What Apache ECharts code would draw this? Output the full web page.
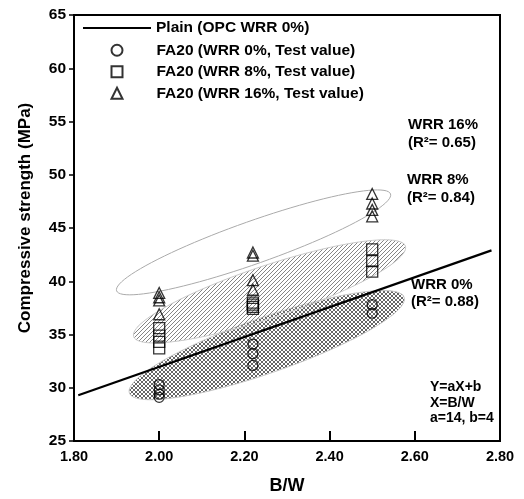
<!DOCTYPE html>
<html lang="en">
  <head>
    <meta charset="UTF-8" />
    <title>Compressive strength vs B/W</title>
    <style>
      html, body { margin: 0; padding: 0; background: #fff; }
      #main { width: 524px; height: 499px; }
    </style>
  </head>
  <body>
    <div id="main"></div>
  </body>
  <script src="https://cdn.jsdelivr.net/npm/echarts@6/dist/echarts.min.js"></script>
  <script>
    /* globals echarts */

    // Plain (OPC WRR 0%) regression line, read at both ends
    var plainX = [1.81, 2.78];
    var plainY = [29.3, 42.9];

    // FA20 test values [B/W, MPa]
    var wrr0 = [
      [2.0, 30.3], [2.0, 29.8], [2.0, 29.4], [2.0, 29.1],
      [2.22, 34.1], [2.22, 33.2], [2.22, 32.1],
      [2.5, 37.8], [2.5, 37.0]
    ];
    var wrr8 = [
      [2.0, 35.6], [2.0, 34.9], [2.0, 34.3], [2.0, 33.7],
      [2.22, 38.0], [2.22, 37.8], [2.22, 37.6], [2.22, 37.4],
      [2.5, 43.0], [2.5, 41.9], [2.5, 40.9]
    ];
    var wrr16 = [
      [2.0, 38.9], [2.0, 38.5], [2.0, 38.2], [2.0, 36.9],
      [2.22, 42.7], [2.22, 42.4], [2.22, 40.1], [2.22, 39.2],
      [2.5, 48.2], [2.5, 47.3], [2.5, 46.7], [2.5, 46.1]
    ];

    // scatter regions: major axis ends (B/W, MPa) and half width (MPa)
    var regions = [
      [1.93, 29.5, 2.575, 38.5, 2.6],
      [1.94, 34.8, 2.578, 43.3, 2.45],
      [1.9, 39.1, 2.543, 48.2, 2.0]
    ];

    var xTicks = ["1.80", "2.00", "2.20", "2.40", "2.60", "2.80"];
    var names = [
      "Plain (OPC WRR 0%)",
      "FA20 (WRR 0%, Test value)",
      "FA20 (WRR 8%, Test value)",
      "FA20 (WRR 16%, Test value)"
    ];

    var FONT = '"Liberation Sans", Arial, sans-serif';

    function makeHatch(color, cross) {
      var c = document.createElement("canvas");
      c.width = 4;
      c.height = 4;
      var ctx = c.getContext("2d");
      ctx.strokeStyle = color;
      ctx.lineWidth = 0.9;
      ctx.beginPath();
      ctx.moveTo(-1, 5); ctx.lineTo(5, -1);
      ctx.moveTo(-1, 1); ctx.lineTo(1, -1);
      ctx.moveTo(3, 5); ctx.lineTo(5, 3);
      if (cross) {
        ctx.moveTo(-1, -1); ctx.lineTo(5, 5);
        ctx.moveTo(3, -1); ctx.lineTo(5, 1);
        ctx.moveTo(-1, 3); ctx.lineTo(1, 5);
      }
      ctx.stroke();
      return c;
    }

    var regionStyles = [
      { fill: { image: makeHatch("#555", true), repeat: "repeat" }, stroke: "#c8c8c8", lineWidth: 1 },
      { fill: { image: makeHatch("#777", false), repeat: "repeat" }, stroke: "#c8c8c8", lineWidth: 1 },
      { fill: "none", stroke: "#aaa", lineWidth: 1 }
    ];

    function renderRegion(params, api) {
      var p1 = api.coord([api.value(0), api.value(1)]);
      var p2 = api.coord([api.value(2), api.value(3)]);
      var q = api.coord([api.value(0), api.value(1) + api.value(4)]);
      var b = Math.abs(q[1] - p1[1]);
      var cx = (p1[0] + p2[0]) / 2;
      var cy = (p1[1] + p2[1]) / 2;
      var a = Math.sqrt(Math.pow(p2[0] - p1[0], 2) + Math.pow(p2[1] - p1[1], 2)) / 2;
      var ang = Math.atan2(p2[1] - p1[1], p2[0] - p1[0]);
      var pts = [];
      for (var i = 0; i < 96; i++) {
        var t = (i / 96) * Math.PI * 2;
        var ex = a * Math.cos(t);
        var ey = b * Math.sin(t);
        pts.push([
          cx + ex * Math.cos(ang) - ey * Math.sin(ang),
          cy + ex * Math.sin(ang) + ey * Math.cos(ang)
        ]);
      }
      return {
        type: "polygon",
        shape: { points: pts },
        style: regionStyles[params.dataIndex]
      };
    }

    function scatter(name, data, symbol, size) {
      return {
        name: name,
        type: "scatter",
        data: data,
        symbol: symbol,
        symbolSize: size,
        z: 5,
        itemStyle: { color: "rgba(0,0,0,0)", borderColor: "#000", borderWidth: 1.3 }
      };
    }

    var chart = echarts.init(document.getElementById("main"));

    var boldText = function(text, x, y, size) {
      return {
        type: "text",
        style: { text: text, x: x, y: y, font: "bold " + size + "px " + FONT, fill: "#000", verticalAlign: "middle" }
      };
    };

    var option = {
      animation: false,
      grid: {
        left: 74, right: 24, top: 15, bottom: 58,
        show: true, borderColor: "#000", borderWidth: 2
      },
      legend: [
        {
          data: [names[0]],
          left: 82, top: 20, padding: 0,
          itemWidth: 68, itemHeight: 14,
          itemStyle: { color: "rgba(0,0,0,0)", borderWidth: 0, opacity: 0 },
          lineStyle: { width: 2, color: "#000" },
          textStyle: { fontFamily: FONT, fontWeight: "bold", fontSize: 15.5, color: "#000" }
        },
        {
          data: names.slice(1),
          orient: "vertical",
          left: 110.5, top: 41.5, padding: 0,
          itemWidth: 11, itemHeight: 11, itemGap: 4,
          textStyle: { fontFamily: FONT, fontWeight: "bold", fontSize: 15.5, color: "#000", padding: [0, 0, 0, 29], lineHeight: 17.5 }
        }
      ],
      xAxis: {
        type: "value",
        min: 1.8, max: 2.8, interval: 0.2,
        axisLine: { show: true, lineStyle: { color: "#000", width: 2 } },
        axisTick: { show: true, inside: true, length: 10, lineStyle: { color: "#000", width: 2 } },
        splitLine: { show: false },
        axisLabel: {
          margin: 8, color: "#000", fontFamily: FONT, fontWeight: "bold", fontSize: 14.5,
          formatter: function(v) { return xTicks[Math.round((v - 1.8) / 0.2)]; }
        }
      },
      yAxis: {
        type: "value",
        min: 25, max: 65, interval: 5,
        axisLine: { show: true, lineStyle: { color: "#000", width: 2 } },
        axisTick: { show: true, inside: false, length: 5, lineStyle: { color: "#000", width: 1.5 } },
        splitLine: { show: false },
        axisLabel: { margin: 8, color: "#000", fontFamily: FONT, fontWeight: "bold", fontSize: 15.5 }
      },
      graphic: [
        {
          type: "text", x: 25, y: 218, rotation: Math.PI / 2,
          style: { text: "Compressive strength (MPa)", font: "bold 17px " + FONT, fill: "#000", align: "center", verticalAlign: "middle" }
        },
        {
          type: "text", x: 287, y: 486,
          style: { text: "B/W", font: "bold 18px " + FONT, fill: "#000", align: "center", verticalAlign: "middle" }
        },
        boldText("WRR 16%", 408, 125, 15),
        boldText("(R\u00b2= 0.65)", 408, 143, 15),
        boldText("WRR 8%", 407, 180, 15),
        boldText("(R\u00b2= 0.84)", 407, 198, 15),
        boldText("WRR 0%", 411, 285, 15),
        boldText("(R\u00b2= 0.88)", 411, 302, 15),
        boldText("Y=aX+b", 430, 387, 14),
        boldText("X=B/W", 430, 403, 14),
        boldText("a=14, b=4", 430, 418, 14)
      ],
      series: [
        {
          type: "custom",
          renderItem: renderRegion,
          data: regions,
          encode: { x: [0, 2], y: [1, 3] },
          clip: false,
          silent: true,
          z: 1
        },
        {
          name: names[0],
          type: "line",
          data: [[plainX[0], plainY[0]], [plainX[1], plainY[1]]],
          symbol: "none",
          z: 3,
          lineStyle: { color: "#000", width: 2.2 },
          itemStyle: { color: "#000" }
        },
        scatter(names[1], wrr0, "circle", 10),
        scatter(names[2], wrr8, "rect", 11),
        scatter(names[3], wrr16, "triangle", 11)
      ]
    };

    chart.setOption(option);
  </script>
</html>
